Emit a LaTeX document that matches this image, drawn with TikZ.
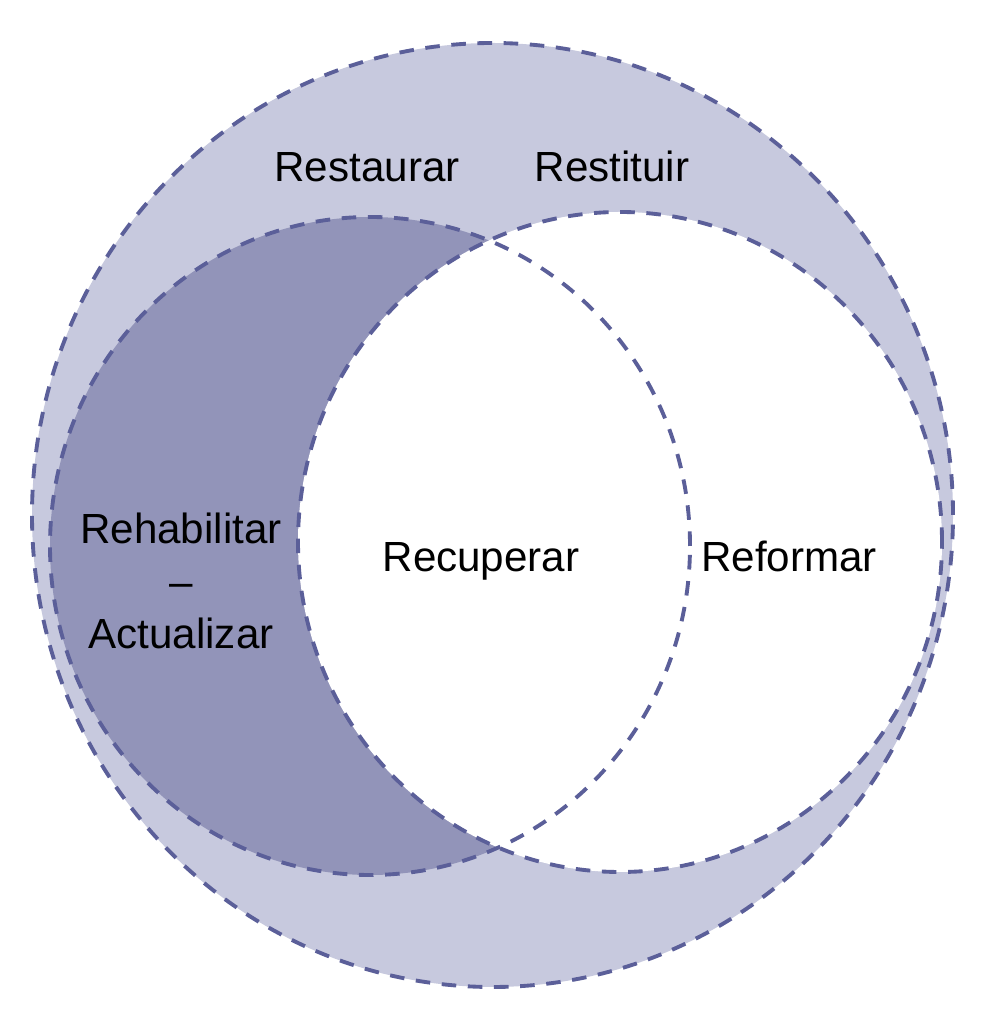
\documentclass[tikz,border=0pt]{standalone}
\usepackage{fontspec}
\setmainfont{Liberation Sans}
\definecolor{ringline}{RGB}{91,95,153}
\definecolor{ringlight}{RGB}{199,201,222}
\definecolor{ringdark}{RGB}{146,148,185}
\usetikzlibrary{positioning}
\tikzset{
  ring/.style={draw=ringline,line width=2.2pt,dash pattern=on 8.3pt off 6.6pt},
  lbl/.style={font=\fontsize{24}{30}\selectfont,align=center,inner sep=0pt}
}

\begin{document}
\begin{tikzpicture}[x=0.02cm,y=0.02cm]
  \useasboundingbox (0,0) rectangle (984,1020);
  % fills
  \fill[ringlight] (492.5,505) ellipse [x radius=460.5,y radius=472];
  \fill[ringdark] (370,474) ellipse [x radius=320,y radius=329];
  \fill[white] (620,478) ellipse [x radius=322,y radius=330];
  % dashed outlines
  \draw[ring] (492.5,505) ellipse [x radius=460.5,y radius=472];
  \draw[ring] (370,474) ellipse [x radius=320,y radius=329];
  \draw[ring] (620,478) ellipse [x radius=322,y radius=330];
  % labels
  \node[lbl,anchor=base] (restaurar) at (367,838) {Restaurar};
  \node[lbl,anchor=base] (restituir) at (612,838) {Restituir};
  \node[lbl] (rehab) at (181,439) {Rehabilitar\\--\\Actualizar};
  \node[lbl,anchor=base] (recuperar) at (481,448) {Recuperar};
  \node[lbl,anchor=base] (reformar) at (789,448) {Reformar};
\end{tikzpicture}
\end{document}
